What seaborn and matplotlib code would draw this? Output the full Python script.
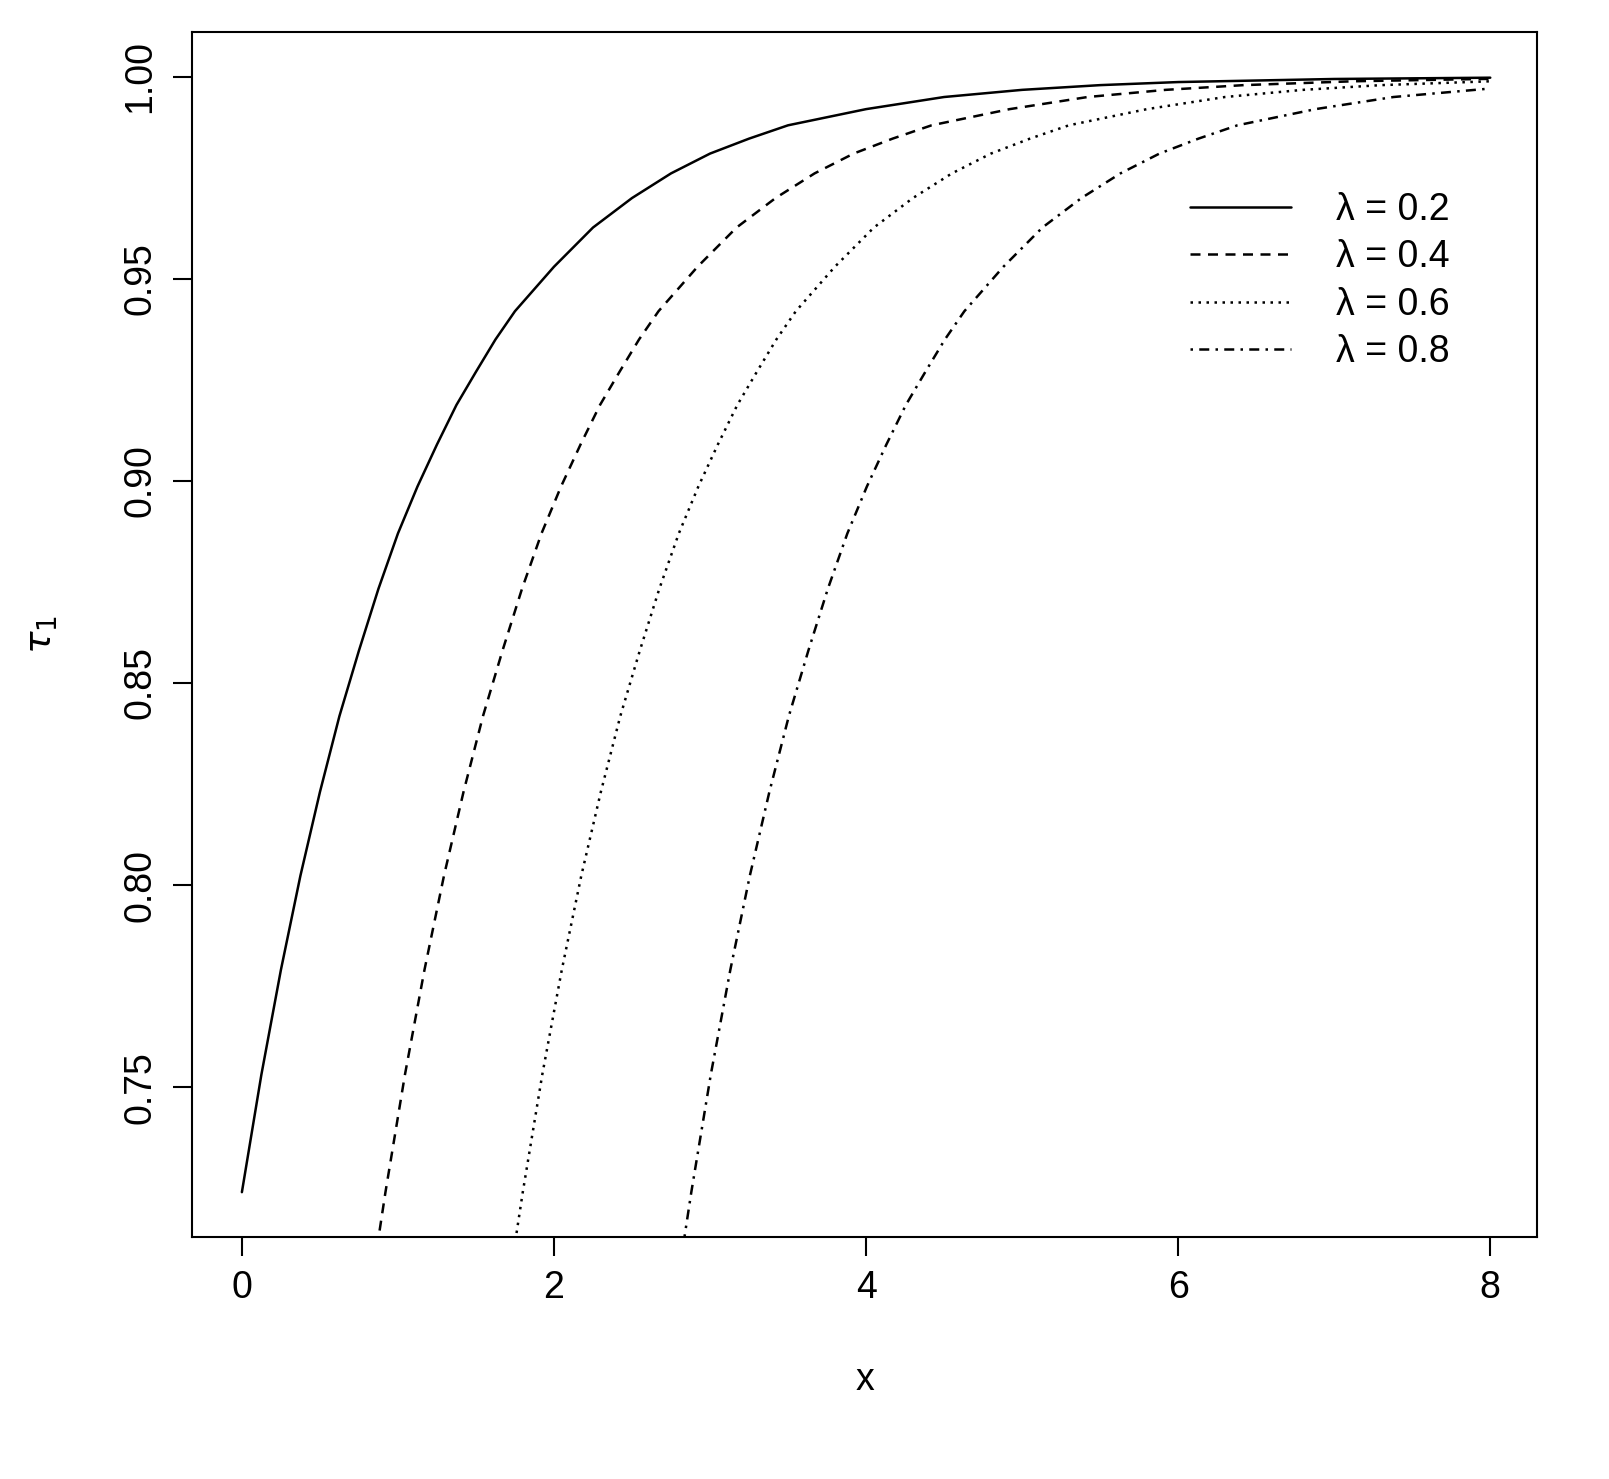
import pandas as pd
import matplotlib
matplotlib.use('Agg')
import matplotlib.pyplot as plt
import seaborn as sns

# values
x_02 = [0, 0.125, 0.25, 0.375, 0.5, 0.625, 0.75, 0.875, 1, 1.125, 1.25, 1.375, 1.5,
        1.625, 1.75, 2, 2.25, 2.5, 2.75, 3, 3.25, 3.5, 4, 4.5, 5, 5.5, 6, 7, 8]
y_02 = [0.724, 0.7531, 0.779, 0.8023, 0.823, 0.8418, 0.858, 0.8733, 0.887, 0.8986,
        0.909, 0.9188, 0.927, 0.935, 0.942, 0.953, 0.9627, 0.970, 0.9761, 0.981,
        0.9847, 0.988, 0.992, 0.995, 0.99677, 0.99794, 0.9987, 0.99946, 0.99978]

x_04 = [0.77, 0.845, 0.92, 1.045, 1.17, 1.295, 1.42, 1.545, 1.67, 1.795, 1.92, 2.045,
        2.17, 2.295, 2.42, 2.545, 2.67, 2.92, 3.17, 3.42, 3.67, 3.92, 4.17, 4.42,
        4.92, 5.42, 5.92, 6.42, 7.12, 8.0]
y_04 = [0.6845, 0.705, 0.724, 0.7531, 0.779, 0.8023, 0.823, 0.8418, 0.858, 0.8733,
        0.887, 0.8986, 0.909, 0.9188, 0.927, 0.935, 0.942, 0.953, 0.9627, 0.970,
        0.9761, 0.981, 0.9847, 0.988, 0.992, 0.995, 0.99677, 0.99794, 0.99889, 0.9995]

x_06 = [1.65, 1.725, 1.8, 1.925, 2.05, 2.175, 2.3, 2.425, 2.55, 2.675, 2.8, 2.925,
        3.05, 3.175, 3.3, 3.425, 3.55, 3.8, 4.05, 4.3, 4.55, 4.8, 5.05, 5.3, 5.8,
        6.3, 6.8, 7.3, 8.0]
y_06 = [0.6845, 0.705, 0.724, 0.7531, 0.779, 0.8023, 0.823, 0.8418, 0.858, 0.8733,
        0.887, 0.8986, 0.909, 0.9188, 0.927, 0.935, 0.942, 0.953, 0.9627, 0.970,
        0.9761, 0.981, 0.9847, 0.988, 0.992, 0.995, 0.99677, 0.99794, 0.99889]

x_08 = [2.73, 2.805, 2.88, 3.005, 3.13, 3.255, 3.38, 3.505, 3.63, 3.755, 3.88, 4.005,
        4.13, 4.255, 4.38, 4.505, 4.63, 4.88, 5.13, 5.38, 5.63, 5.88, 6.13, 6.38,
        6.88, 7.38, 8.0]
y_08 = [0.6845, 0.705, 0.724, 0.7531, 0.779, 0.8023, 0.823, 0.8418, 0.858, 0.8733,
        0.887, 0.8986, 0.909, 0.9188, 0.927, 0.935, 0.942, 0.953, 0.9627, 0.970,
        0.9761, 0.981, 0.9847, 0.988, 0.992, 0.995, 0.9971]

labels = ['λ = 0.2', 'λ = 0.4', 'λ = 0.6', 'λ = 0.8']

frames = []
for lab, xs, ys in zip(labels, [x_02, x_04, x_06, x_08], [y_02, y_04, y_06, y_08]):
    frames.append(pd.DataFrame({'x': xs, 'y': ys, 'lam': lab}))
df = pd.concat(frames, ignore_index=True)

sns.set_style('white')
plt.rcParams['font.family'] = ['Liberation Sans', 'DejaVu Sans']
plt.rcParams['mathtext.fontset'] = 'dejavusans'
for key in ['text.color', 'axes.labelcolor', 'xtick.color', 'ytick.color']:
    plt.rcParams[key] = 'black'

fig = plt.figure(figsize=(16.09, 14.79), dpi=100)
ax = fig.add_axes([0.1193, 0.1636, 0.836, 0.8148])

dashes = {labels[0]: '', labels[1]: (4, 3), labels[2]: (1, 2.2), labels[3]: (1, 2.5, 4, 2.5)}
sns.lineplot(data=df, x='x', y='y', style='lam', dashes=dashes, color='black',
             linewidth=1.8, sort=False, estimator=None, ax=ax)

ax.set_xlim(-0.32, 8.30)
ax.set_ylim(0.7129, 1.0111)
ax.set_xticks([0, 2, 4, 6, 8])
ax.set_yticks([0.75, 0.80, 0.85, 0.90, 0.95, 1.00])
ax.set_yticklabels(['0.75', '0.80', '0.85', '0.90', '0.95', '1.00'], rotation=90, va='center')
ax.tick_params(axis='both', direction='out', length=14, width=1.5, labelsize=27,
               bottom=True, left=True, pad=10)
for s in ax.spines.values():
    s.set_color('black')
    s.set_linewidth(1.5)
ax.set_xlabel('x', fontsize=27, labelpad=40)
ax.set_ylabel(r'$\tau_1$', fontsize=27, labelpad=45)

leg = ax.legend(frameon=False, fontsize=27, loc='upper right', bbox_to_anchor=(0.96, 0.895),
                handlelength=2.7, labelspacing=0.3, handletextpad=1.2)
for line in leg.get_lines():
    line.set_linewidth(1.8)

fig.savefig('out.png', dpi=100)
